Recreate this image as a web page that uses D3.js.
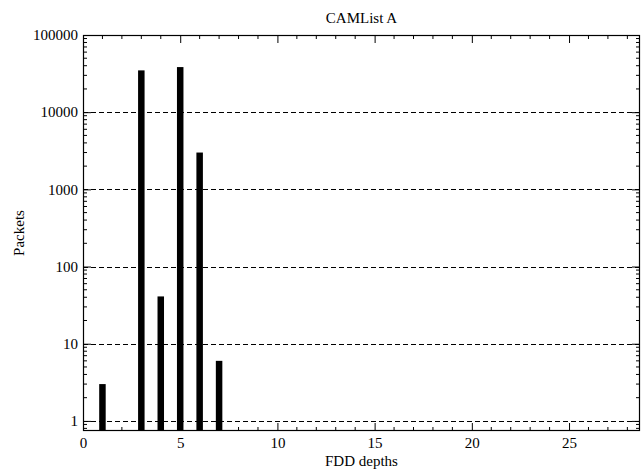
<!DOCTYPE html>
<html>
<head>
<meta charset="utf-8">
<script src="https://cdn.jsdelivr.net/npm/d3@7"></script>
<style>
  html, body { margin: 0; padding: 0; background: #fff; }
  svg text { font-family: "Liberation Serif", "Times New Roman", serif; fill: #000; }
</style>
</head>
<body>
<svg id="chart" width="643" height="473"></svg>
<script>
// FDD depth histogram (packet counts, log scale)
const depths = [1, 3, 4, 5, 6, 7];
const packets = [3, 34800, 41, 38400, 3000, 6];
const yTickValues = [1, 10, 100, 1000, 10000, 100000];
const yTickLabels = ["1", "10", "100", "1000", "10000", "100000"];
const xTickValues = [0, 5, 10, 15, 20, 25];
const titleText = "CAMList A";
const xLabel = "FDD depths";
const yLabel = "Packets";

const W = 643, H = 473;
const m = { left: 83, right: 3, top: 35, bottom: 42 };
const pw = W - m.left - m.right, ph = H - m.top - m.bottom;

const svg = d3.select("#chart");
const g = svg.append("g").attr("transform", `translate(${m.left},${m.top})`);

const x = d3.scaleLinear().domain([0, 28.65]).range([0, pw]);
const y = d3.scaleLog().domain([0.74, 100000]).range([ph, 0]);

// dashed decade gridlines
g.append("g").selectAll("line")
  .data(yTickValues.filter(v => v < 100000))
  .join("line")
  .attr("x1", 0).attr("x2", pw)
  .attr("y1", d => Math.round(y(d)) + 0.5).attr("y2", d => Math.round(y(d)) + 0.5)
  .attr("stroke", "#000").attr("stroke-width", 1)
  .attr("stroke-dasharray", "5,3");

// bars
const barW = 6.5;
g.append("g").selectAll("rect")
  .data(depths.map((d, i) => ({ d, v: packets[i] })))
  .join("rect")
  .attr("x", p => x(p.d) - barW / 2)
  .attr("width", barW)
  .attr("y", p => y(p.v))
  .attr("height", p => ph - y(p.v))
  .attr("fill", "#000");

// x axis: major ticks every 5, minor every 1, inward on bottom and top
const xMinor = d3.range(1, 29).filter(v => v % 5 !== 0);
const axB = d3.axisBottom(x).tickValues(xTickValues).tickSizeInner(-8).tickSizeOuter(0).tickPadding(6).tickFormat(d3.format("d"));
const gB = g.append("g").attr("transform", `translate(0,${ph})`).call(axB);
const axT = d3.axisTop(x).tickValues(xTickValues).tickSizeInner(-8).tickSizeOuter(0).tickFormat("");
const gT = g.append("g").call(axT);
[gB, gT].forEach((ga, i) => {
  ga.selectAll(".tick").filter(d => d === 0).select("line").remove();
  ga.select(".domain").remove();
  ga.append("g").selectAll("line").data(xMinor).join("line")
    .attr("x1", d => x(d)).attr("x2", d => x(d))
    .attr("y1", 0).attr("y2", i === 0 ? -4 : 4)
    .attr("stroke", "#000");
});
gB.selectAll("text").attr("font-size", 15).attr("dy", "0.71em");

// y axis: decades major, 2..9 minor, inward on left and right
const yMinor = [];
[0.1, 1, 10, 100, 1000, 10000].forEach(b => { for (let k = 2; k <= 9; k++) { const v = b * k; if (v >= 0.74 && v < 100000) yMinor.push(v); } });
const axL = d3.axisLeft(y).tickValues(yTickValues).tickSizeInner(-8).tickSizeOuter(0).tickPadding(5)
  .tickFormat((d, i) => yTickLabels[i]);
const gL = g.append("g").call(axL);
const axR = d3.axisRight(y).tickValues(yTickValues).tickSizeInner(-8).tickSizeOuter(0).tickFormat("");
const gR = g.append("g").attr("transform", `translate(${pw},0)`).call(axR);
[gL, gR].forEach((ga, i) => {
  ga.select(".domain").remove();
  ga.append("g").selectAll("line").data(yMinor).join("line")
    .attr("x1", 0).attr("x2", i === 0 ? 4 : -4)
    .attr("y1", d => y(d)).attr("y2", d => y(d))
    .attr("stroke", "#000");
});
gL.selectAll("text").attr("font-size", 15);
svg.selectAll(".tick line").attr("stroke", "#000");

// frame
g.append("rect").attr("x", 0.5).attr("y", 0.5).attr("width", pw - 1).attr("height", ph - 1)
  .attr("fill", "none").attr("stroke", "#000").attr("stroke-width", 1.2);

// titles
svg.append("text").attr("x", m.left + pw / 2).attr("y", 23).attr("text-anchor", "middle")
  .attr("font-size", 15).text(titleText);
svg.append("text").attr("x", m.left + pw / 2).attr("y", 466).attr("text-anchor", "middle")
  .attr("font-size", 15).text(xLabel);
svg.append("text").attr("transform", `translate(24,${m.top + ph / 2}) rotate(-90)`)
  .attr("text-anchor", "middle").attr("font-size", 15).text(yLabel);
</script>
</body>
</html>
